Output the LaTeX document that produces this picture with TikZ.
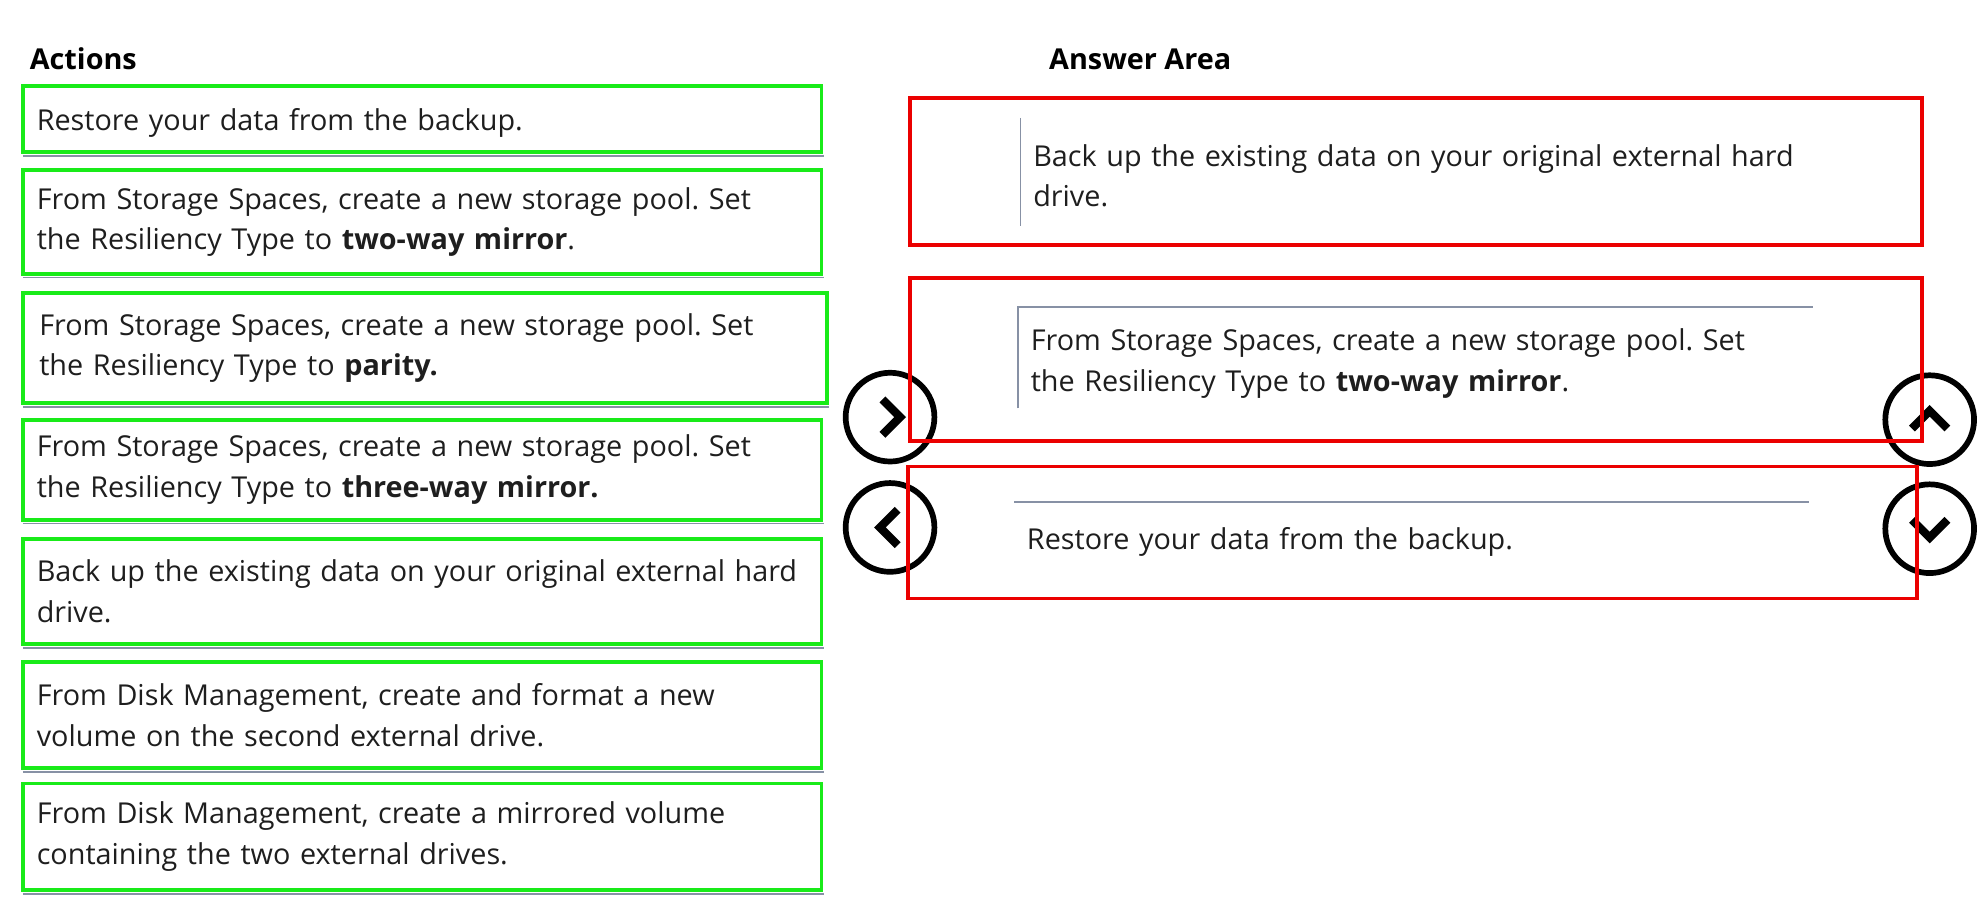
\documentclass[tikz,border=0pt]{standalone}
\usepackage{fontspec}
\setmainfont{Open Sans}
\usetikzlibrary{positioning}
\definecolor{limegreen}{RGB}{25,235,25}
\definecolor{boxred}{RGB}{235,0,0}
\definecolor{itemgray}{RGB}{135,145,165}
\definecolor{textgray}{RGB}{30,30,30}

\begin{document}
\frenchspacing
\begin{tikzpicture}[x = 1pt, y = -1pt, font = \fontsize{22.7}{32}\selectfont, text = textgray]
    \tikzset{>=latex}
    % Draw a rectangle node
    \tikzstyle{action}   = [rectangle, draw = limegreen, line width = 3pt, outer sep = 0pt, minimum width = 630pt, minimum height = 84pt, inner xsep = 11pt, text width = 608pt, align = left, anchor = north west]
    \tikzstyle{slot}     = [rectangle, draw = boxred, line width = 3pt, outer sep = 0pt, minimum width = 798pt, anchor = north west]
    \tikzstyle{answer}   = [rectangle, outer sep = 0pt, minimum width = 627pt, inner xsep = 10pt, text width = 607pt, align = left, anchor = north west]
    \tikzstyle{button}   = [circle, draw = black, line width = 4.5pt, fill = white, minimum size = 70pt]
    \tikzstyle{chev}     = [line width = 6.5pt, line join = miter]
    \tikzstyle{itemline} = [draw = itemgray, line width = 1.2pt]
    \tikzstyle{title}    = [anchor = base west, font = \fontsize{22.7}{32}\bfseries, text = black]

    \useasboundingbox (0,0) rectangle (1568,715);

    \node[title] (actions) at (20,55) {Actions};
    \node[title] (answers) at (824,55) {Answer Area};

    % Actions
    \node[action, minimum height = 52pt, text depth = 0pt] (act1) at (18,68) {Restore your data from the backup.};
    \node[action, minimum height = 82pt, below = 14pt of act1.south west, anchor = north west] (act2) {From Storage Spaces, create a new storage pool. Set\\the Resiliency Type to \textbf{two-way mirror}.};
    \node[action, minimum height = 87pt, minimum width = 634pt, below = 15pt of act2.south west, anchor = north west] (act3) {From Storage Spaces, create a new storage pool. Set\\the Resiliency Type to \textbf{parity.}};
    \node[action, minimum height = 79pt, below = 13pt of act3.south west, anchor = north west] (act4) {From Storage Spaces, create a new storage pool. Set\\the Resiliency Type to \textbf{three-way mirror.}};
    \node[action, minimum height = 83pt, minimum width = 624pt, below = 15pt of act4.south west, anchor = north west] (act5) {Back up the existing data on your original external hard\\drive.};
    \node[action, minimum height = 84pt, below = 14pt of act5.south west, anchor = north west] (act6) {From Disk Management, create and format a new\\volume on the second external drive.};
    \node[action, minimum height = 84pt, minimum width = 627pt, below = 12pt of act6.south west, anchor = north west] (act7) {From Disk Management, create a mirrored volume\\containing the two external drives.};

    \foreach \n in {act1,act2,act3,act4,act5,act6,act7}
        \draw[itemline] ([yshift = -3pt]\n.south west) -- ([xshift = 2pt, yshift = -3pt]\n.south east);

    % Answer area
    \node[answer, minimum height = 91pt] (ansA) at (805,93) {Back up the existing data on your original external hard\\drive.};
    \node[answer, minimum height = 89pt] (ansB) at (803,242) {From Storage Spaces, create a new storage pool. Set\\the Resiliency Type to \textbf{two-way mirror}.};
    \node[answer, minimum height = 58pt, text depth = 0pt] (ansC) at (800,396) {Restore your data from the backup.};

    \draw[itemline] (ansA.north west) -- ++(0,85);
    \draw[itemline] ([yshift = -80pt]ansB.north west) -- (ansB.north west) -- (ansB.north east);
    \draw[itemline] (ansC.north west) -- (ansC.north east);

    % Buttons
    \node[button] (moveRight) at (702,329) {};
    \node[button] (moveLeft)  at (702,416) {};
    \node[button] (moveUp)    at (1522,331) {};
    \node[button] (moveDown)  at (1522,417) {};

    \draw[chev] ([shift = {(-6,-14)}]moveRight.center) -- ([shift = {(8,0)}]moveRight.center) -- ([shift = {(-6,14)}]moveRight.center);
    \draw[chev] ([shift = {(6,-14)}]moveLeft.center) -- ([shift = {(-8,0)}]moveLeft.center) -- ([shift = {(6,14)}]moveLeft.center);
    \draw[chev] ([shift = {(-14,7)}]moveUp.center) -- ([shift = {(0,-7)}]moveUp.center) -- ([shift = {(14,7)}]moveUp.center);
    \draw[chev] ([shift = {(-14,-7)}]moveDown.center) -- ([shift = {(0,7)}]moveDown.center) -- ([shift = {(14,-7)}]moveDown.center);

    % Red frames
    \node[slot, minimum height = 116pt] (slotA) at (718,77) {};
    \node[slot, minimum height = 129pt] (slotB) at (718,219) {};
    \node[slot, minimum height = 104pt, minimum width = 796pt] (slotC) at (716,368) {};
\end{tikzpicture}
\end{document}
